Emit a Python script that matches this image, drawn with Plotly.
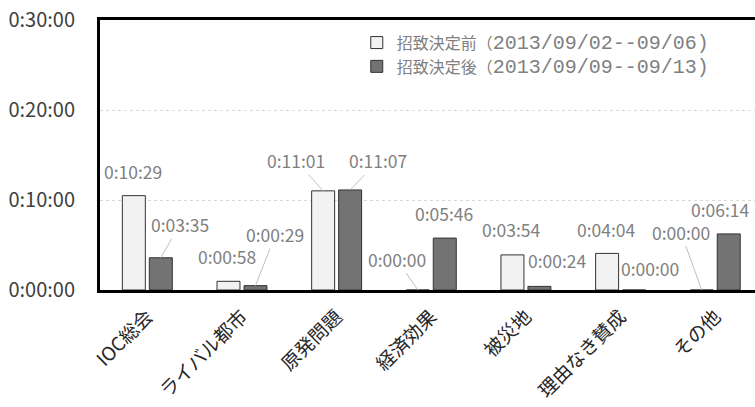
import plotly.graph_objects as go

# Average broadcast time per topic, before and after the 2020 bid decision
categories = ["IOC総会", "ライバル都市", "原発問題", "経済効果", "被災地", "理由なき賛成", "その他"]
before_times = ["0:10:29", "0:00:58", "0:11:01", "0:00:00", "0:03:54", "0:04:04", "0:00:00"]
after_times = ["0:03:35", "0:00:29", "0:11:07", "0:05:46", "0:00:24", "0:00:00", "0:06:14"]
series_titles = ["招致決定前", "招致決定後"]
series_periods = ["2013/09/02--09/06)", "2013/09/09--09/13)"]
y_tick_values = [0, 600, 1200, 1800]
y_tick_labels = ["0:00:00", "0:10:00", "0:20:00", "0:30:00"]


def to_seconds(t):
    h, m, s = (int(p) for p in t.split(":"))
    return h * 3600 + m * 60 + s


before = [to_seconds(t) for t in before_times]
after = [to_seconds(t) for t in after_times]

# label placement: pixel offset of the text from the bar top, and whether a leader line is drawn
before_label_pos = [(-1, -24, False), (-1, -25, False), (-27, -30, True), (-21, -31, True),
                    (-1, -25, False), (-1, -24, False), (-21, -58, True)]
after_label_pos = [(19, -33, True), (20, -51, True), (28, -29, True), (-1, -25, False),
                   (18, -26, False), (16, -22, False), (-8, -24, False)]

FONT = "Noto Sans CJK JP"
BARGAP = 0.43
BARGROUPGAP = 0.148
LABEL_COLOR = "#808080"


def legend_name(title, period):
    return (title + "（<span style='font-family:Liberation Mono;font-size:20px'>"
            + period + "</span>")


fig = go.Figure()
fig.add_trace(go.Bar(
    x=categories, y=before, name=legend_name(series_titles[0], series_periods[0]),
    marker=dict(color="#f2f2f2", line=dict(color="#333333", width=1)),
))
fig.add_trace(go.Bar(
    x=categories, y=after, name=legend_name(series_titles[1], series_periods[1]),
    marker=dict(color="#737373", line=dict(color="#333333", width=1)),
))

# centre of each bar inside its group, in category units
shift = (1 - BARGAP) / 4
annotations = []
for values, texts, places, sign in ((before, before_times, before_label_pos, -1),
                                    (after, after_times, after_label_pos, 1)):
    for i, (v, t, (dx, dy, leader)) in enumerate(zip(values, texts, places)):
        annotations.append(dict(
            x=i + sign * shift, y=v, xref="x", yref="y",
            text=t, showarrow=True, ax=dx, ay=dy,
            arrowhead=0, arrowwidth=1, standoff=0,
            arrowcolor="#bfbfbf" if leader else "rgba(0,0,0,0)",
            font=dict(family=FONT, size=17.5, color=LABEL_COLOR),
        ))

fig.update_layout(
    width=755, height=407,
    margin=dict(l=100, r=0, t=20, b=117),
    paper_bgcolor="white", plot_bgcolor="white",
    barmode="group", bargap=BARGAP, bargroupgap=BARGROUPGAP,
    font=dict(family=FONT, color="#404040"),
    showlegend=True,
    legend=dict(
        x=0.392, y=0.979, xanchor="left", yanchor="top",
        bgcolor="rgba(0,0,0,0)",
        font=dict(family=FONT, size=16, color=LABEL_COLOR),
        itemwidth=30,
    ),
    annotations=annotations,
)
fig.update_xaxes(
    type="category", range=[-0.5, 6.42], automargin=False,
    showline=True, linecolor="black", linewidth=3, mirror=True,
    tickangle=-45, tickfont=dict(family=FONT, size=19, color="#262626"),
    ticklabelstandoff=5,
    showgrid=False, ticks="",
)
fig.update_yaxes(
    range=[0, 1800], tickvals=y_tick_values, ticktext=y_tick_labels,
    automargin=False,
    showline=True, linecolor="black", linewidth=3,
    showgrid=True, gridcolor="#d9d9d9", griddash="dot", gridwidth=1,
    zeroline=False, ticks="", ticklabelstandoff=18,
    tickfont=dict(family=FONT, size=20, color="#404040"),
)

fig.write_html("out.html")
